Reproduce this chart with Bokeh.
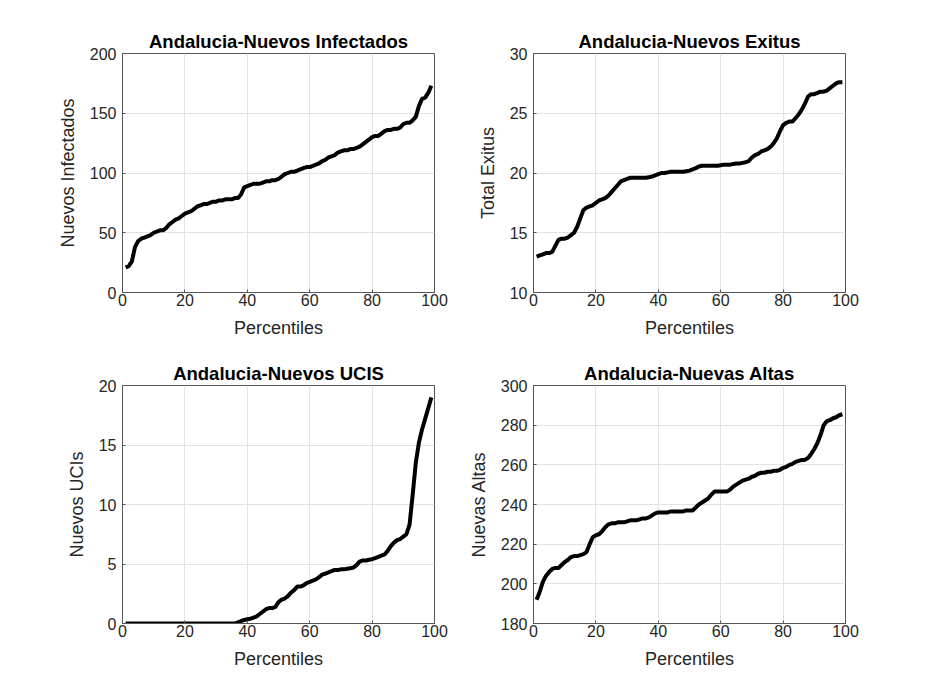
from bokeh.plotting import figure
from bokeh.layouts import column, row
from bokeh.models import FixedTicker, Range1d
from bokeh.embed import file_html
from bokeh.resources import INLINE

percentiles = list(range(1, 100))

infectados = [21, 22, 26, 38, 43, 45, 46, 47, 48, 50, 51, 52, 52, 54, 57, 59, 61, 62, 64, 66,
              67, 68, 70, 72, 73, 74, 74, 75, 76, 76, 77, 77, 78, 78, 78, 79, 79, 82, 88, 89,
              90, 91, 91, 91, 92, 93, 93, 94, 94, 95, 97, 99, 100, 101, 101, 102, 103, 104, 105, 105,
              106, 107, 108, 110, 111, 113, 114, 115, 117, 118, 119, 119, 120, 120, 121, 122, 124, 126, 128, 130,
              131, 131, 133, 135, 136, 136, 137, 137, 138, 141, 142, 142, 144, 147, 156, 162, 163, 167, 173]

exitus = [13.0, 13.1, 13.2, 13.3, 13.3, 13.4, 13.9, 14.4, 14.5, 14.5, 14.6, 14.8, 15.0, 15.5, 16.2, 16.9, 17.1, 17.2, 17.3, 17.5,
          17.7, 17.8, 17.9, 18.1, 18.4, 18.7, 19.0, 19.3, 19.4, 19.5, 19.6, 19.6, 19.6, 19.6, 19.6, 19.6, 19.65, 19.7, 19.8, 19.9,
          20.0, 20.0, 20.05, 20.1, 20.1, 20.1, 20.1, 20.1, 20.15, 20.2, 20.3, 20.4, 20.55, 20.6, 20.6, 20.6, 20.6, 20.6, 20.6, 20.65,
          20.7, 20.7, 20.7, 20.75, 20.8, 20.8, 20.85, 20.9, 21.0, 21.3, 21.5, 21.6, 21.8, 21.9, 22.0, 22.2, 22.5, 22.9, 23.5, 24.0,
          24.2, 24.3, 24.3, 24.6, 24.9, 25.3, 25.8, 26.4, 26.6, 26.6, 26.7, 26.8, 26.8, 26.9, 27.1, 27.3, 27.5, 27.6, 27.6]

ucis = [0] * 36 + [0.1, 0.2, 0.3, 0.35,
        0.4, 0.5, 0.6, 0.8, 1.0, 1.2, 1.3, 1.3, 1.4, 1.8, 2.0, 2.1, 2.3, 2.6, 2.8, 3.1, 3.1, 3.2, 3.4, 3.5,
        3.6, 3.7, 3.9, 4.1, 4.2, 4.3, 4.4, 4.5, 4.5, 4.55, 4.55, 4.6, 4.65, 4.7, 4.9, 5.2, 5.3, 5.3, 5.35, 5.4,
        5.5, 5.6, 5.7, 5.8, 6.1, 6.5, 6.8, 7.0, 7.1, 7.3, 7.5, 8.3, 10.8, 13.5, 15.2, 16.3, 17.2, 18.1, 19.0]

altas = [192, 196, 201, 204, 206, 207.5, 208, 208, 209.5, 211, 212, 213.5, 214, 214, 214.5, 215, 216, 220, 223.5, 224.5,
         225, 226.5, 228.5, 230, 230.5, 230.5, 231, 231, 231, 231.5, 232, 232, 232, 232.5, 233, 233, 233.5, 234.5, 235.5, 236,
         236, 236, 236, 236.5, 236.5, 236.5, 236.5, 236.5, 237, 237, 237, 238.5, 240, 241, 242, 243, 245, 246.5, 246.5, 246.5,
         246.5, 246.5, 247.5, 249, 250, 251, 252, 252.5, 253, 254, 254.5, 255.5, 256, 256, 256.5, 256.5, 257, 257, 257.5, 258.5,
         259, 260, 260.5, 261.5, 262, 262.5, 262.5, 263.5, 265.5, 268, 271, 275, 280, 282, 282.5, 283.5, 284, 285, 285.5]

x_ticks = [0, 20, 40, 60, 80, 100]

FONT = "Liberation Sans"
AX = "#262626"


def make(title, ylabel, ydata, yr, yticks, bl, bt, br, bb, fh):
    p = figure(width=bl + 312 + br, height=bt + fh + bb,
               frame_width=312, frame_height=fh,
               min_border_left=bl, min_border_right=br, min_border_top=bt, min_border_bottom=bb,
               x_range=Range1d(0, 100), y_range=Range1d(*yr),
               output_backend="svg", toolbar_location=None,
               background_fill_color="white", border_fill_color="white")
    p.line(percentiles, ydata, line_color="black", line_width=4)
    p.title.text = title
    p.title.text_font = FONT
    p.title.text_font_size = "18.5px"
    p.title.text_font_style = "bold"
    p.title.align = "center"
    p.title.text_color = "black"
    p.title.standoff = 3
    p.xaxis.axis_label = "Percentiles"
    p.yaxis.axis_label = ylabel
    p.xaxis.ticker = FixedTicker(ticks=x_ticks)
    p.yaxis.ticker = FixedTicker(ticks=yticks)
    for ax in (p.xaxis, p.yaxis):
        ax.axis_label_text_font = FONT
        ax.axis_label_text_font_size = "18px"
        ax.axis_label_text_font_style = "normal"
        ax.axis_label_text_color = AX
        ax.major_label_text_font = FONT
        ax.major_label_text_font_size = "16px"
        ax.major_label_text_color = AX
        ax.axis_line_color = "#555555"
        ax.major_tick_line_color = "#555555"
        ax.major_tick_in = 3
        ax.major_tick_out = 0
        ax.minor_tick_line_color = None
    p.xaxis.major_label_standoff = 1
    p.xaxis.axis_label_standoff = 9
    p.yaxis.major_label_standoff = 6
    p.yaxis.axis_label_standoff = 9
    p.grid.grid_line_color = "#e3e3e3"
    p.outline_line_color = "#555555"
    p.outline_line_width = 1
    return p


a = make("Andalucia-Nuevos Infectados", "Nuevos Infectados", infectados, (0, 200), [0, 50, 100, 150, 200], 122, 53, 20, 58, 239)
b = make("Andalucia-Nuevos Exitus", "Total Exitus", exitus, (10, 30), [10, 15, 20, 25, 30], 79, 53, 40, 58, 239)
c = make("Andalucia-Nuevos UCIS", "Nuevos UCIs", ucis, (0, 20), [0, 5, 10, 15, 20], 122, 35, 20, 50, 238)
d = make("Andalucia-Nuevas Altas", "Nuevas Altas", altas, (180, 300), [180, 200, 220, 240, 260, 280, 300], 79, 35, 40, 50, 238)

layout = column(row(a, b), row(c, d))
open("out.html", "w").write(file_html(layout, INLINE))
